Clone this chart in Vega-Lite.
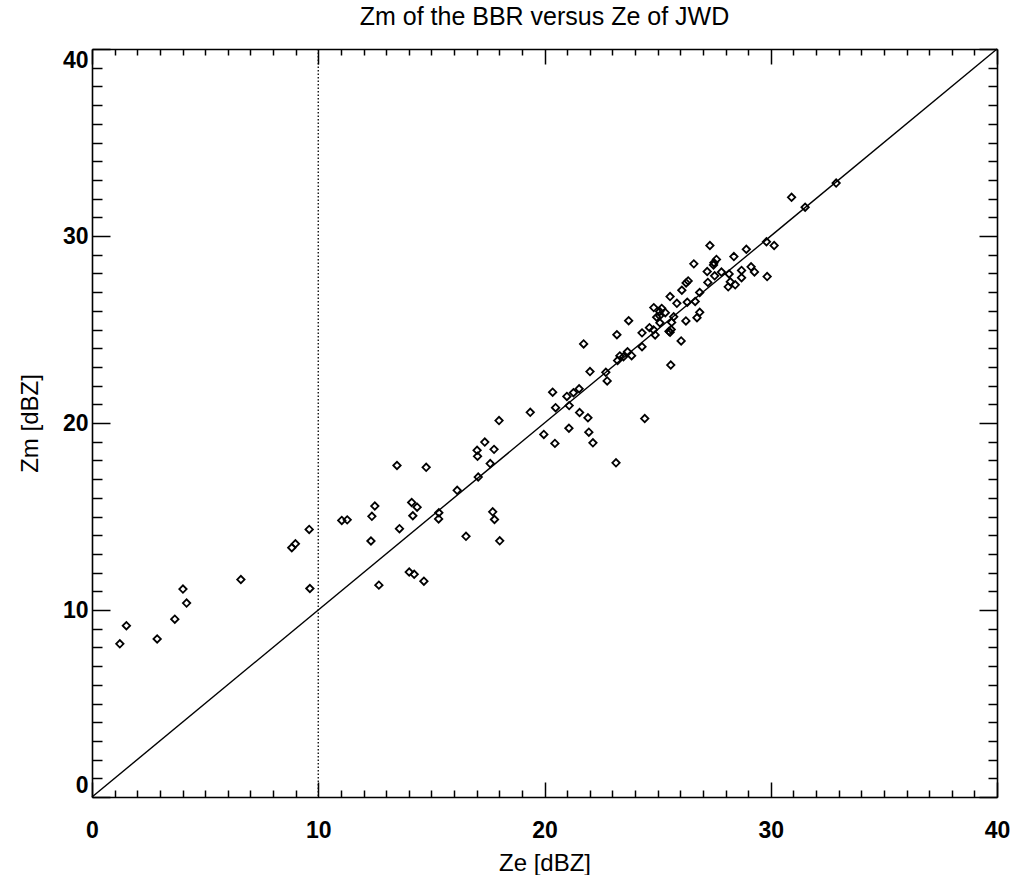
{
  "$schema": "https://vega.github.io/schema/vega-lite/v6.json",
  "width": 905,
  "height": 748,
  "autosize": {"type": "none"},
  "padding": {"left": 92, "top": 49, "right": 17, "bottom": 78},
  "background": "white",
  "title": {"text": "Zm of the BBR versus Ze of JWD", "fontSize": 25, "font": "Liberation Sans", "fontWeight": "normal", "color": "black", "anchor": "middle", "offset": 16},
  "config": {
    "view": {"stroke": null},
    "axis": {"grid": false, "domainColor": "black", "domainWidth": 1.6, "tickColor": "black", "tickWidth": 1.5,
      "labelFont": "Liberation Sans", "labelFontWeight": "bold", "labelFontSize": 23, "labelColor": "black",
      "titleFont": "Liberation Sans", "titleFontWeight": "normal", "titleFontSize": 24, "titleColor": "black",
      "labelOverlap": false}
  },
  "datasets": {
    "pts": [
      {"ze": 1.23, "zm": 8.19}, {"ze": 1.52, "zm": 9.16}, {"ze": 2.88, "zm": 8.45}, {"ze": 3.66, "zm": 9.51},
      {"ze": 4.02, "zm": 11.12}, {"ze": 4.18, "zm": 10.37}, {"ze": 6.58, "zm": 11.63}, {"ze": 8.83, "zm": 13.33},
      {"ze": 8.99, "zm": 13.54}, {"ze": 9.6, "zm": 14.31}, {"ze": 9.63, "zm": 11.15}, {"ze": 11.04, "zm": 14.79},
      {"ze": 11.28, "zm": 14.82}, {"ze": 12.33, "zm": 13.69}, {"ze": 12.37, "zm": 15.01}, {"ze": 12.5, "zm": 15.56},
      {"ze": 12.68, "zm": 11.33}, {"ze": 13.48, "zm": 17.73}, {"ze": 13.59, "zm": 14.35}, {"ze": 14.02, "zm": 12.03},
      {"ze": 14.24, "zm": 11.91}, {"ze": 14.67, "zm": 11.54}, {"ze": 14.18, "zm": 15.04}, {"ze": 14.13, "zm": 15.75},
      {"ze": 14.37, "zm": 15.5}, {"ze": 14.77, "zm": 17.63}, {"ze": 15.33, "zm": 15.2}, {"ze": 15.32, "zm": 14.87},
      {"ze": 16.14, "zm": 16.4}, {"ze": 16.53, "zm": 13.94}, {"ze": 17.07, "zm": 17.11}, {"ze": 17.04, "zm": 18.22},
      {"ze": 17.02, "zm": 18.54}, {"ze": 17.36, "zm": 18.98}, {"ze": 17.6, "zm": 17.83}, {"ze": 17.77, "zm": 18.59},
      {"ze": 17.71, "zm": 15.25}, {"ze": 17.79, "zm": 14.84}, {"ze": 18.02, "zm": 13.7}, {"ze": 17.99, "zm": 20.13},
      {"ze": 19.37, "zm": 20.57}, {"ze": 19.97, "zm": 19.39}, {"ze": 20.36, "zm": 21.65}, {"ze": 20.49, "zm": 20.82},
      {"ze": 20.46, "zm": 18.91}, {"ze": 21.09, "zm": 20.93}, {"ze": 20.99, "zm": 21.42}, {"ze": 21.28, "zm": 21.62},
      {"ze": 21.53, "zm": 21.83}, {"ze": 21.08, "zm": 19.72}, {"ze": 21.55, "zm": 20.56}, {"ze": 21.92, "zm": 20.28},
      {"ze": 21.96, "zm": 19.51}, {"ze": 22.14, "zm": 18.94}, {"ze": 21.73, "zm": 24.23}, {"ze": 22.01, "zm": 22.75},
      {"ze": 22.71, "zm": 22.71}, {"ze": 22.77, "zm": 22.25}, {"ze": 23.16, "zm": 17.87}, {"ze": 23.2, "zm": 24.72},
      {"ze": 23.23, "zm": 23.34}, {"ze": 23.33, "zm": 23.59}, {"ze": 23.49, "zm": 23.54}, {"ze": 23.67, "zm": 23.81},
      {"ze": 23.85, "zm": 23.6}, {"ze": 23.72, "zm": 25.47}, {"ze": 24.31, "zm": 24.08}, {"ze": 24.31, "zm": 24.82},
      {"ze": 24.43, "zm": 20.24}, {"ze": 24.64, "zm": 25.1}, {"ze": 24.82, "zm": 24.98}, {"ze": 24.89, "zm": 24.71},
      {"ze": 24.83, "zm": 26.17}, {"ze": 24.96, "zm": 25.66}, {"ze": 25.09, "zm": 25.96}, {"ze": 25.18, "zm": 26.13},
      {"ze": 25.34, "zm": 25.9}, {"ze": 25.09, "zm": 25.73}, {"ze": 25.1, "zm": 25.36}, {"ze": 25.55, "zm": 26.76},
      {"ze": 25.85, "zm": 26.4}, {"ze": 25.71, "zm": 25.68}, {"ze": 25.62, "zm": 25.38}, {"ze": 25.5, "zm": 24.9},
      {"ze": 25.6, "zm": 25.0}, {"ze": 25.55, "zm": 24.85}, {"ze": 25.58, "zm": 23.1}, {"ze": 26.04, "zm": 24.39},
      {"ze": 26.25, "zm": 25.46}, {"ze": 26.31, "zm": 26.46}, {"ze": 26.66, "zm": 26.5}, {"ze": 26.86, "zm": 25.92},
      {"ze": 26.74, "zm": 25.63}, {"ze": 26.86, "zm": 26.98}, {"ze": 26.07, "zm": 27.1}, {"ze": 26.26, "zm": 27.49},
      {"ze": 26.35, "zm": 27.6}, {"ze": 26.6, "zm": 28.51}, {"ze": 27.22, "zm": 27.52}, {"ze": 27.19, "zm": 28.1},
      {"ze": 27.47, "zm": 28.45}, {"ze": 27.49, "zm": 28.57}, {"ze": 27.6, "zm": 28.75}, {"ze": 27.31, "zm": 29.49},
      {"ze": 27.52, "zm": 27.87}, {"ze": 27.82, "zm": 28.07}, {"ze": 28.16, "zm": 27.97}, {"ze": 28.21, "zm": 27.55},
      {"ze": 28.12, "zm": 27.28}, {"ze": 28.43, "zm": 27.39}, {"ze": 28.37, "zm": 28.9}, {"ze": 28.71, "zm": 28.16},
      {"ze": 28.71, "zm": 27.77}, {"ze": 28.92, "zm": 29.29}, {"ze": 29.13, "zm": 28.35}, {"ze": 29.28, "zm": 28.08},
      {"ze": 29.84, "zm": 27.83}, {"ze": 29.81, "zm": 29.69}, {"ze": 30.15, "zm": 29.49}, {"ze": 30.92, "zm": 32.07},
      {"ze": 31.52, "zm": 31.54}, {"ze": 32.89, "zm": 32.83}
    ],
    "diag": [{"ze": 0, "zm": 0}, {"ze": 40, "zm": 40}],
    "thr": [{"ze": 10}]
  },
  "resolve": {"axis": {"x": "independent", "y": "independent"}},
  "layer": [
    {
      "data": {"name": "pts"},
      "mark": {"type": "point", "shape": "diamond", "filled": false, "stroke": "black", "strokeWidth": 1.8, "size": 55, "opacity": 1},
      "encoding": {
        "x": {"field": "ze", "type": "quantitative", "scale": {"domain": [0, 40], "nice": false, "zero": false},
          "axis": {"orient": "bottom", "title": "Ze [dBZ]", "values": [0,1,2,3,4,5,6,7,8,9,10,11,12,13,14,15,16,17,18,19,20,21,22,23,24,25,26,27,28,29,30,31,32,33,34,35,36,37,38,39,40],
            "labelExpr": "datum.value % 10 === 0 ? datum.label : ''", "labelFlush": false,
            "tickSize": {"condition": {"test": "datum.value % 10 === 0", "value": -15}, "value": -7},
            "labelPadding": 37, "titlePadding": 1}},
        "y": {"field": "zm", "type": "quantitative", "scale": {"domain": [0, 40], "nice": false, "zero": false},
          "axis": {"orient": "left", "title": "Zm [dBZ]", "values": [0,1,2,3,4,5,6,7,8,9,10,11,12,13,14,15,16,17,18,19,20,21,22,23,24,25,26,27,28,29,30,31,32,33,34,35,36,37,38,39,40],
            "labelExpr": "datum.value % 10 === 0 ? datum.label : ''", "labelFlush": true,
            "tickSize": {"condition": {"test": "datum.value % 10 === 0", "value": -18}, "value": -10},
            "labelPadding": 22, "titlePadding": 20}}
      }
    },
    {
      "data": {"name": "diag"},
      "mark": {"type": "line", "color": "black", "strokeWidth": 1.4},
      "encoding": {
        "x": {"field": "ze", "type": "quantitative", "scale": {"domain": [0, 40], "nice": false, "zero": false},
          "axis": {"orient": "top", "title": null, "labels": false, "values": [0,1,2,3,4,5,6,7,8,9,10,11,12,13,14,15,16,17,18,19,20,21,22,23,24,25,26,27,28,29,30,31,32,33,34,35,36,37,38,39,40],
            "tickSize": {"condition": {"test": "datum.value % 10 === 0", "value": -15}, "value": -6}}},
        "y": {"field": "zm", "type": "quantitative", "scale": {"domain": [0, 40], "nice": false, "zero": false},
          "axis": {"orient": "right", "title": null, "labels": false, "values": [0,1,2,3,4,5,6,7,8,9,10,11,12,13,14,15,16,17,18,19,20,21,22,23,24,25,26,27,28,29,30,31,32,33,34,35,36,37,38,39,40],
            "tickSize": {"condition": {"test": "datum.value % 10 === 0", "value": -18}, "value": -9}}}
      }
    },
    {
      "data": {"name": "thr"},
      "mark": {"type": "rule", "color": "black", "strokeWidth": 1.3, "strokeDash": [1.5, 2]},
      "encoding": {
        "x": {"field": "ze", "type": "quantitative", "scale": {"domain": [0, 40], "nice": false, "zero": false}, "axis": null}
      }
    }
  ]
}
